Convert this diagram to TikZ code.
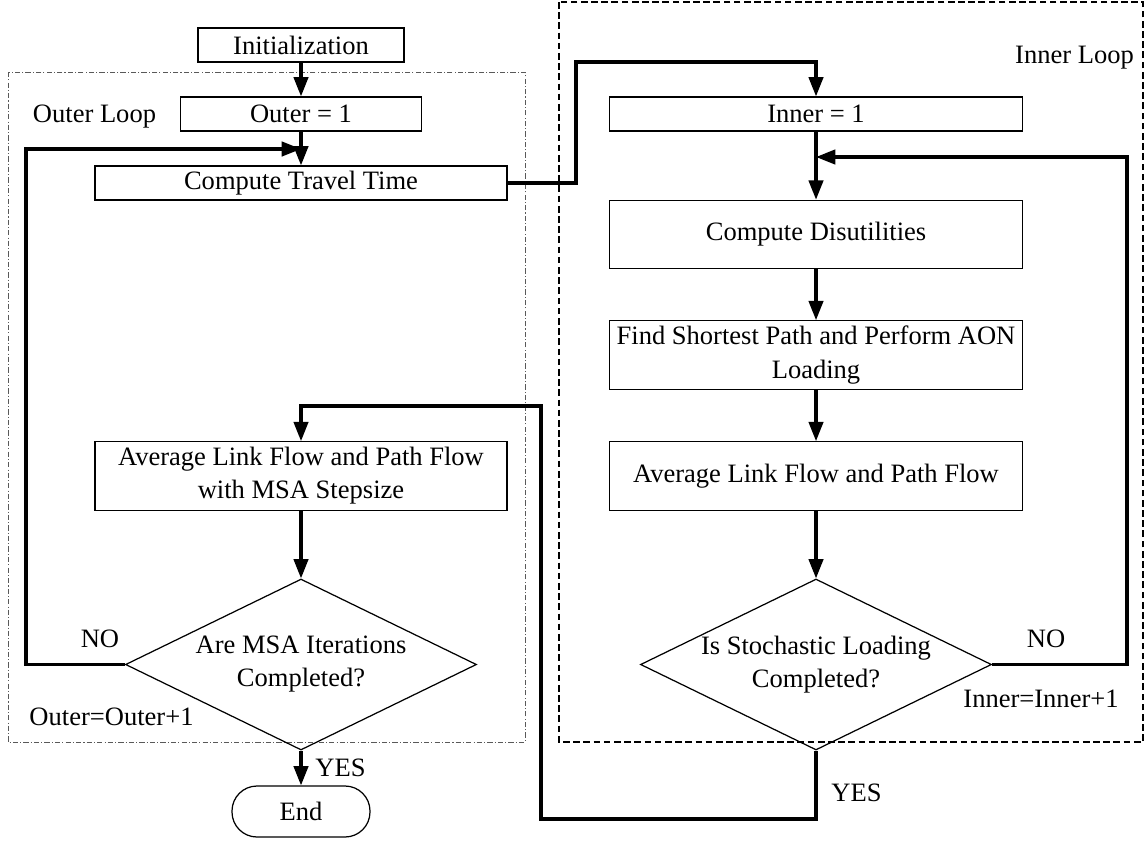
\documentclass[tikz,border=0pt]{standalone}
\usepackage{fontspec}
\setmainfont{Liberation Serif}
\usetikzlibrary{arrows.meta,shapes.geometric}

\begin{document}
\begin{tikzpicture}[>={Triangle[length=11pt,width=8.2pt]},
    every node/.style={font=\fontsize{15.1}{18.8}\selectfont},
    block/.style={draw, line width=0.7pt, minimum height=0.68cm, inner sep=1pt, align=center},
    bigblock/.style={block, minimum width=8.26cm, minimum height=1.37cm},
    decision/.style={draw, diamond, aspect=2.05, line width=0.7pt, minimum width=7.02cm,
                     minimum height=3.42cm, inner sep=0pt, align=center},
    flow/.style={->, line width=1.8pt}]
\useasboundingbox (0,0) rectangle (22.92,-16.82);

% loop frames
\draw[black!65, line width=0.55pt, dash pattern=on 3pt off 1.2pt on 0.6pt off 1.2pt]
    (0.16,-1.44) rectangle (10.50,-14.84);
\draw[line width=1.2pt, dash pattern=on 3.8pt off 2pt] (11.18,-0.04) rectangle (22.86,-14.84);

% outer loop
\node[block, minimum width=4.12cm] (init) at (6.02,-0.90) {Initialization};
\node[block, minimum width=4.82cm] (outer1) at (6.02,-2.28) {Outer = 1};
\node[block, minimum width=8.24cm] (travel) at (6.02,-3.66) {Compute Travel Time};
\node[bigblock, minimum width=8.24cm] (avgmsa) at (6.02,-9.52) {Average Link Flow and Path Flow\\with MSA Stepsize};
\node[decision] (msa) at (6.02,-13.29) {Are MSA Iterations\\Completed?};
\node[draw, line width=0.7pt, rounded corners=0.5cm, minimum width=2.76cm,
      minimum height=1.02cm] (end) at (6.02,-16.23) {End};

% inner loop
\node[block, minimum width=8.26cm] (inner1) at (16.32,-2.28) {Inner = 1};
\node[bigblock] (disutil) at (16.32,-4.69) {Compute Disutilities};
\node[bigblock] (aon) at (16.32,-7.10) {Find Shortest Path and Perform AON\\Loading};
\node[bigblock] (avginner) at (16.32,-9.52) {Average Link Flow and Path Flow};
\node[decision] (stoch) at (16.32,-13.29) {Is Stochastic Loading\\Completed?};

% labels
\node[anchor=base] (outerlbl) at (1.89,-2.44) {Outer Loop};
\node[anchor=base] (innerlbl) at (21.49,-1.26) {Inner Loop};
\node[anchor=base] (nol) at (2.00,-12.95) {NO};
\node[anchor=base] (nor) at (20.92,-12.95) {NO};
\node[anchor=base] (outerinc) at (2.23,-14.50) {Outer=Outer+1};
\node[anchor=base] (innerinc) at (20.82,-14.14) {Inner=Inner+1};
\node[anchor=base] (yesl) at (6.81,-15.52) {YES};
\node[anchor=base] (yesr) at (17.13,-16.03) {YES};

% bends
\coordinate (oleft) at (0.52,-2.98);
\coordinate (backo) at (6.02,-2.98);
\coordinate (tjog) at (11.52,-1.24);
\coordinate (iright) at (22.54,-3.14);
\coordinate (backi) at (16.32,-3.14);
\coordinate (ybot) at (10.82,-16.38);
\coordinate (ytop) at (10.82,-8.12);

\draw[flow] (init) -- (outer1);
\draw[flow] (outer1) -- (travel);
\draw[flow] (avgmsa) -- (msa);
\draw[flow] (msa) -- (end);
\draw[flow] (msa.west) -| (oleft) -- (backo);

\draw[flow] (travel.east) -| (tjog) -| (inner1.north);
\draw[flow] (inner1) -- (disutil);
\draw[flow] (disutil) -- (aon);
\draw[flow] (aon) -- (avginner);
\draw[flow] (avginner) -- (stoch);
\draw[flow] (stoch.east) -| (iright) -- (backi);
\draw[flow] (stoch.south) |- (ybot) -- (ytop) -| (avgmsa.north);

\end{tikzpicture}
\end{document}
